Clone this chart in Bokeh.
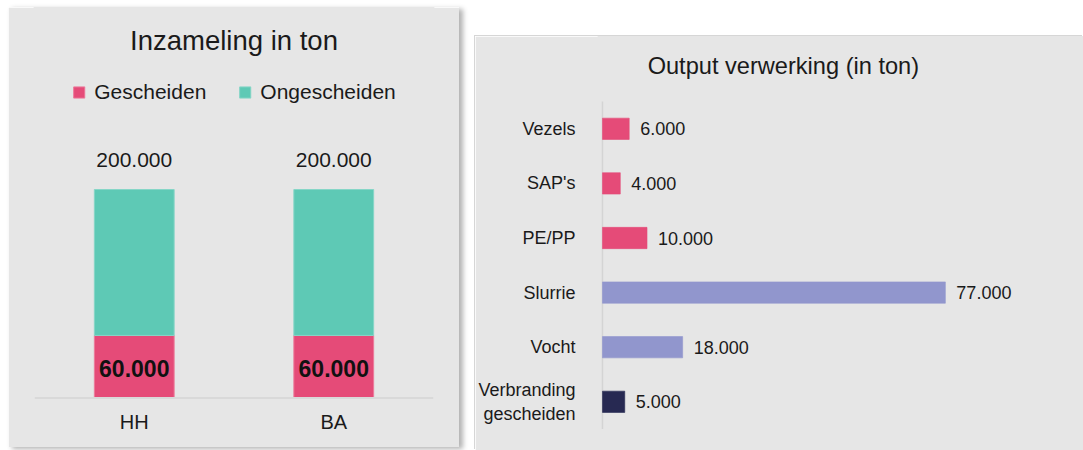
from bokeh.plotting import figure
from bokeh.models import (ColumnDataSource, Range1d, FactorRange, Label, Legend, LegendItem,
                          Span, FixedTicker)
from bokeh.layouts import row
from bokeh.embed import file_html
from bokeh.resources import INLINE
from bokeh.core.properties import value

# ---------------- data ----------------
groups = ["HH", "BA"]
gescheiden = [60000, 60000]
ongescheiden = [140000, 140000]
totals = [200000, 200000]

out_cats = ["Vezels", "SAP's", "PE/PP", "Slurrie", "Vocht", "Verbranding\ngescheiden"]
out_vals = [6000, 4000, 10000, 77000, 18000, 5000]
out_colors = ["#e54b78", "#e54b78", "#e54b78", "#9196cd", "#9196cd", "#272952"]

PINK = "#e54b78"
TEAL = "#5ec9b5"
BG = "#e6e6e6"
FONT = "Liberation Sans"
TXT = "#1a1a1a"
SHIFT = 0.4   # baseline correction (fraction of font size)


def nl(v):
    return f"{v:,}".replace(",", ".")


# ---------------- left chart (layout in page pixels) ----------------
L_X0, L_Y0, LW, LH = 8, 7, 451, 440
F_LEFT, F_RIGHT = 34, 433          # frame horizontal extent (page px)
BASE_PX, TOP_PX = 397.5, 189.0     # page y of value 0 and of the largest total
k = (BASE_PX - TOP_PX) / max(totals)


def ly(page_y):
    return (BASE_PX - page_y) / k


p1 = figure(width=LW, height=LH, x_range=FactorRange(*groups, range_padding=0),
            y_range=Range1d(ly(L_Y0 + LH), ly(L_Y0)), output_backend="svg",
            toolbar_location=None, title_location=None,
            min_border_left=F_LEFT - L_X0, min_border_right=L_X0 + LW - F_RIGHT,
            min_border_top=0, min_border_bottom=0, margin=(L_Y0, 0, 3, L_X0),
            styles={"box-shadow": "4px 2px 5px rgba(0,0,0,0.30)"})
p1.background_fill_color = BG
p1.border_fill_color = BG
p1.outline_line_color = BG
p1.outline_line_width = 2
p1.grid.visible = False
p1.xaxis.visible = False
p1.yaxis.visible = False

p1.add_layout(Span(location=0, dimension="width", line_color="#d9d9d9", line_width=2))

src1 = ColumnDataSource(dict(g=groups, a=gescheiden,
                             ab=[a + b for a, b in zip(gescheiden, ongescheiden)],
                             t=totals, zero=[0] * len(groups),
                             mid=[v / 2 for v in gescheiden],
                             tl=[nl(v) for v in totals], al=[nl(v) for v in gescheiden]))
r_a = p1.vbar(x="g", bottom=0, top="a", width=0.4, source=src1,
              fill_color=PINK, line_color="#ec7b9b", line_width=1)
r_b = p1.vbar(x="g", bottom="a", top="ab", width=0.4, source=src1,
              fill_color=TEAL, line_color="#86d6c7", line_width=1)

p1.text(x="g", y="t", text="tl", source=src1, text_font=value(FONT),
        text_font_size="21px", text_color=TXT, text_align="center",
        text_baseline="alphabetic", y_offset=-21 - SHIFT * 21)
p1.text(x="g", y="mid", text="al", source=src1, text_font=value(FONT),
        text_font_size="23px", text_font_style="bold", text_color="#111111",
        text_align="center", text_baseline="alphabetic", y_offset=10.5 - SHIFT * 23)
# category labels under the base line
p1.text(x="g", y="zero", text="g", source=src1, text_font=value(FONT),
        text_font_size="20px", text_color=TXT, text_align="center",
        text_baseline="alphabetic", y_offset=31.5 - SHIFT * 20)

p1.add_layout(Label(x=len(groups) / 2, y=ly(51 - SHIFT * 27.5), text="Inzameling in ton",
                    text_font=FONT, text_font_size="27.5px", text_color=TXT,
                    text_align="center", text_baseline="alphabetic"))

leg = Legend(items=[LegendItem(label="Gescheiden", renderers=[r_a]),
                    LegendItem(label="Ongescheiden", renderers=[r_b])],
             location="top_center", orientation="horizontal",
             background_fill_alpha=0, border_line_color=None,
             label_text_font=FONT, label_text_font_size="21px", label_text_color=TXT,
             glyph_width=14, glyph_height=14, label_standoff=9, spacing=31,
             padding=0, margin=73)
p1.add_layout(leg)

# ---------------- right chart ----------------
R_X0, R_Y0, RW, RH = 475, 36, 608, 414
AX_X = 599                       # page x of value 0
FR_X = 595                       # page x of frame left edge
kx = 345 / 77000                 # px per ton
C0, BAND = 128.3, 54.6           # page y of first category centre, band height


def rx(page_x):
    return (page_x - AX_X) / kx


def ry(page_y):
    return (page_y - C0) / BAND


idx = list(range(len(out_cats)))

p2 = figure(width=RW, height=RH, y_range=Range1d(ry(R_Y0 + RH), ry(R_Y0)),
            x_range=Range1d(rx(FR_X), rx(R_X0 + RW)), output_backend="svg",
            toolbar_location=None, title_location=None,
            min_border_left=FR_X - R_X0, min_border_right=0, min_border_top=0,
            min_border_bottom=0, margin=(R_Y0, 0, 0, R_X0 - (L_X0 + LW)),
            styles={"box-shadow": "-1px -1px 0px #d6d6d6"})
p2.background_fill_color = BG
p2.border_fill_color = BG
p2.outline_line_color = BG
p2.outline_line_width = 2
p2.grid.visible = False
p2.xaxis.visible = False
ay = p2.yaxis[0]
ay.ticker = FixedTicker(ticks=idx)
ay.major_label_overrides = {i: c for i, c in zip(idx, out_cats)}
ay.axis_line_color = None
ay.major_tick_line_color = None
ay.minor_tick_line_color = None
ay.major_label_text_font = FONT
ay.major_label_text_font_size = "18px"
ay.major_label_text_color = TXT
ay.major_label_standoff = 17

p2.segment(x0=[0], y0=[idx[0] - 0.5], x1=[0], y1=[idx[-1] + 0.5],
           line_color="#d4d4d4", line_width=1.5)

src2 = ColumnDataSource(dict(y=idx, v=out_vals, col=out_colors, lab=[nl(v) for v in out_vals]))
p2.hbar(y="y", left=0, right="v", height=0.39, source=src2,
        fill_color="col", line_color="col", line_alpha=0.6)
p2.text(x="v", y="y", text="lab", source=src2, text_font=value(FONT),
        text_font_size="18px", text_color=TXT, text_align="left",
        text_baseline="middle", x_offset=11)

p2.add_layout(Label(x=rx(781), y=ry(75 - SHIFT * 23.6), text="Output verwerking (in ton)",
                    text_font=FONT, text_font_size="23.6px", text_color=TXT,
                    text_align="center", text_baseline="alphabetic"))

layout = row(p1, p2, spacing=0)
open("out.html", "w").write(file_html(layout, INLINE))
